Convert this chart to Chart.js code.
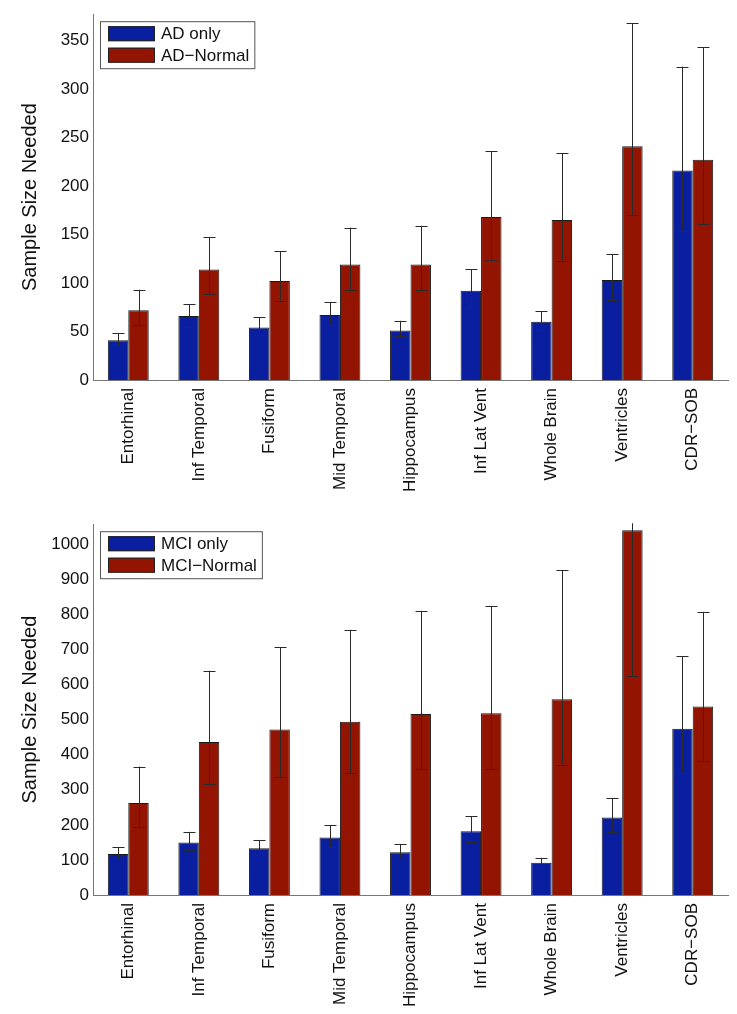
<!DOCTYPE html>
<html>
<head>
<meta charset="utf-8">
<script src="https://cdn.jsdelivr.net/npm/chart.js@4.4.0/dist/chart.umd.min.js"></script>
<style>
  body { margin: 0; background: #fff; }
  canvas { position: absolute; left: 0; }
</style>
</head>
<body>
<canvas id="adChart" width="737" height="505" style="top:0"></canvas>
<canvas id="mciChart" width="737" height="504" style="top:510px"></canvas>
<script>
const regions = ['Entorhinal', 'Inf Temporal', 'Fusiform', 'Mid Temporal', 'Hippocampus', 'Inf Lat Vent', 'Whole Brain', 'Ventricles', 'CDR\u2212SOB']

// top panel
const adOnly = [41, 66, 54, 67, 51, 92, 60, 103, 216]
const adOnlyLow = [36, 55, 46, 57, 45, 75, 50, 82, 154]
const adOnlyHigh = [48, 78, 65, 80, 61, 114, 71, 130, 323]
const adNormal = [72, 114, 102, 119, 119, 168, 165, 241, 227]
const adNormalLow = [57, 89, 81, 93, 93, 124, 123, 170, 161]
const adNormalHigh = [93, 147, 133, 157, 159, 236, 234, 368, 343]

// bottom panel
const mciOnly = [117, 150, 133, 164, 122, 182, 92, 221, 474]
const mciOnlyLow = [102, 127, 114, 137, 104, 150, 81, 179, 349]
const mciOnlyHigh = [137, 180, 157, 199, 144, 224, 106, 276, 680]
const mciNormal = [262, 436, 472, 494, 516, 518, 558, 1040, 537]
const mciNormalLow = [195, 317, 336, 348, 358, 358, 372, 624, 383]
const mciNormalHigh = [366, 639, 706, 756, 810, 823, 926, 1100, 807]

const FONT = "'Liberation Sans', Arial, sans-serif"
const BLUE = '#0a1ea0'
const RED = '#931400'

// error bars from low/high arrays, drawn through the y scale
const errorBars = {
    id: 'errorBars',
    afterDatasetsDraw(chart) {
        const ctx = chart.ctx
        const y = chart.scales.y
        const area = chart.chartArea
        ctx.save()
        ctx.beginPath()
        ctx.rect(area.left, area.top - 1, area.right - area.left, area.bottom - area.top + 1)
        ctx.clip()
        ctx.strokeStyle = '#2a2a2a'
        ctx.lineWidth = 1
        chart.data.datasets.forEach((ds, i) => {
            chart.getDatasetMeta(i).data.forEach((bar, j) => {
                const x = Math.round(bar.x) + 0.5
                const lo = y.getPixelForValue(ds.errLow[j])
                const hi = y.getPixelForValue(ds.errHigh[j])
                ctx.beginPath()
                ctx.moveTo(x, lo)
                ctx.lineTo(x, hi)
                ctx.moveTo(x - 6, Math.round(lo) + 0.5)
                ctx.lineTo(x + 6, Math.round(lo) + 0.5)
                ctx.moveTo(x - 6, Math.round(hi) + 0.5)
                ctx.lineTo(x + 6, Math.round(hi) + 0.5)
                ctx.stroke()
            })
        })
        ctx.restore()
    }
}

// boxed legend in the top-left corner of the plot
const boxLegend = {
    id: 'boxLegend',
    afterDraw(chart) {
        const ctx = chart.ctx
        const area = chart.chartArea
        const left = area.left + 7
        const top = area.top + 7
        ctx.save()
        ctx.font = '17px ' + FONT
        const widest = Math.max(...chart.data.datasets.map(d => ctx.measureText(d.label).width))
        const w = 62 + widest + 4
        const h = 47
        ctx.fillStyle = '#fff'
        ctx.fillRect(left, top, w, h)
        ctx.strokeStyle = '#555'
        ctx.lineWidth = 1
        ctx.strokeRect(left + 0.5, top + 0.5, w, h)
        chart.data.datasets.forEach((d, i) => {
            const cy = top + 12.5 + i * 21.5
            ctx.fillStyle = d.backgroundColor
            ctx.fillRect(left + 8, cy - 7.5, 47, 15)
            ctx.strokeStyle = '#222'
            ctx.strokeRect(left + 8.5, cy - 7, 46, 14)
            ctx.fillStyle = '#111'
            ctx.textBaseline = 'middle'
            ctx.fillText(d.label, left + 61, cy + 1)
        })
        ctx.restore()
    }
}

function makeChart(id, labels, ymax, step, xHeight, padTop) {
    return new Chart(document.getElementById(id), {
        type: 'bar',
        data: {
            labels: regions,
            datasets: labels
        },
        options: {
            responsive: false,
            animation: false,
            devicePixelRatio: 1,
            layout: { padding: { top: padTop, right: 9, left: 0, bottom: 0 } },
            datasets: {
                bar: { categoryPercentage: 0.58, barPercentage: 1, borderWidth: 1, borderColor: '#1a1a1a' }
            },
            plugins: { legend: { display: false }, tooltip: { enabled: false } },
            scales: {
                x: {
                    grid: { display: false, drawTicks: false },
                    border: { display: true, color: '#777' },
                    ticks: { minRotation: 90, maxRotation: 90, padding: 8, color: '#111', font: { size: 17, family: FONT } },
                    afterFit: s => { s.height = xHeight }
                },
                y: {
                    min: 0,
                    max: ymax,
                    grid: { display: false, drawTicks: false },
                    border: { display: true, color: '#777' },
                    ticks: { stepSize: step, padding: 4, color: '#111', font: { size: 17, family: FONT }, callback: v => String(v) },
                    afterBuildTicks: s => { s.ticks = s.ticks.filter(t => t.value % step === 0) },
                    afterFit: s => { s.width = 93 },
                    title: { display: true, text: 'Sample Size Needed', color: '#111', padding: { top: 18, bottom: 0 }, font: { size: 20, family: FONT } }
                }
            }
        },
        plugins: [errorBars, boxLegend]
    })
}

makeChart('adChart', [
    { label: 'AD only', data: adOnly, errLow: adOnlyLow, errHigh: adOnlyHigh, backgroundColor: BLUE },
    { label: 'AD\u2212Normal', data: adNormal, errLow: adNormalLow, errHigh: adNormalHigh, backgroundColor: RED }
], 377, 50, 125, 8)

makeChart('mciChart', [
    { label: 'MCI only', data: mciOnly, errLow: mciOnlyLow, errHigh: mciOnlyHigh, backgroundColor: BLUE },
    { label: 'MCI\u2212Normal', data: mciNormal, errLow: mciNormalLow, errHigh: mciNormalHigh, backgroundColor: RED }
], 1057, 100, 119, 13)
</script>
</body>
</html>
